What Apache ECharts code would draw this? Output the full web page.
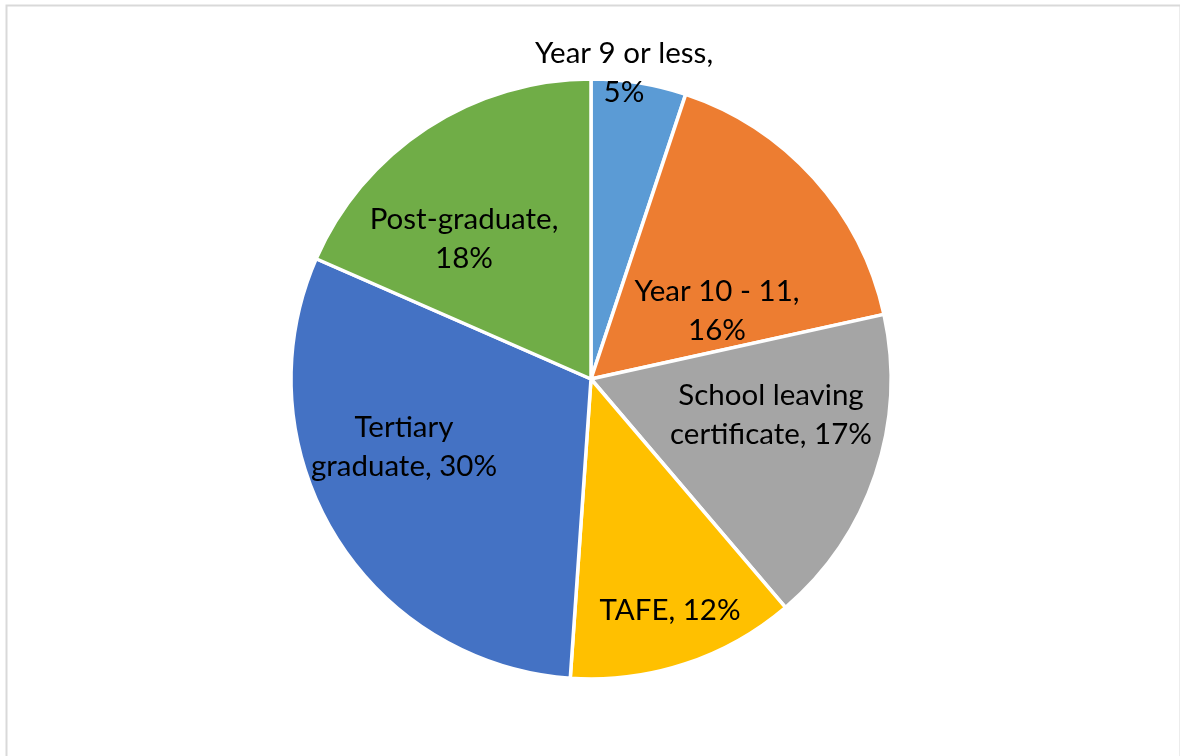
<!DOCTYPE html>
<html>
<head>
<meta charset="utf-8">
<script src="https://cdn.jsdelivr.net/npm/echarts@6/dist/echarts.min.js"></script>
<style>
html,body{margin:0;padding:0;background:#fff;}
#chart{width:1180px;height:756px;}
</style>
</head>
<body>
<div id="chart"></div>
<script>
const categories = ['Year 9 or less', 'Year 10 - 11', 'School leaving certificate', 'TAFE', 'Tertiary graduate', 'Post-graduate'];
const values = [5.1, 16.4, 17.2, 12.3, 30.4, 18.4];
const labelTexts = ['Year 9 or less,\n{p}', 'Year 10 - 11,\n{p}', 'School leaving\ncertificate, {p}', 'TAFE, {p}', 'Tertiary\ngraduate, {p}', 'Post-graduate,\n{p}'];
const colors = ['#5B9BD5', '#ED7D31', '#A5A5A5', '#FFC000', '#4472C4', '#70AD47'];

const CX = 591, CY = 379, R = 300;
// label block centres relative to pie centre
const labelPos = [[33, -306], [126, -68], [180, 36], [79, 231], [-187, 68], [-127, -140]];

const chart = echarts.init(document.getElementById('chart'));
chart.setOption({
  animation: false,
  graphic: [{
    type: 'rect', left: 4, top: 3,
    shape: {width: 1174, height: 790},
    style: {fill: 'none', stroke: '#d9d9d9', lineWidth: 2}
  }],
  series: [{
    type: 'pie',
    center: [CX, CY],
    radius: R,
    startAngle: 90,
    clockwise: true,
    data: categories.map((c, i) => ({name: c, value: values[i], itemStyle: {color: colors[i]}})),
    itemStyle: {borderColor: '#ffffff', borderWidth: 3.5},
    label: {
      show: true,
      position: 'inside',
      color: '#000',
      fontFamily: 'Lato, "Open Sans", sans-serif',
      fontSize: 29.5,
      lineHeight: 39,
      align: 'center',
      formatter: p => labelTexts[p.dataIndex].replace('{p}', Math.round(p.percent) + '%')
    },
    labelLine: {show: false},
    labelLayout: p => ({
      x: CX + labelPos[p.dataIndex][0],
      y: CY + labelPos[p.dataIndex][1],
      align: 'center',
      verticalAlign: 'middle'
    }),
    emphasis: {disabled: true}
  }]
});
</script>
</body>
</html>
